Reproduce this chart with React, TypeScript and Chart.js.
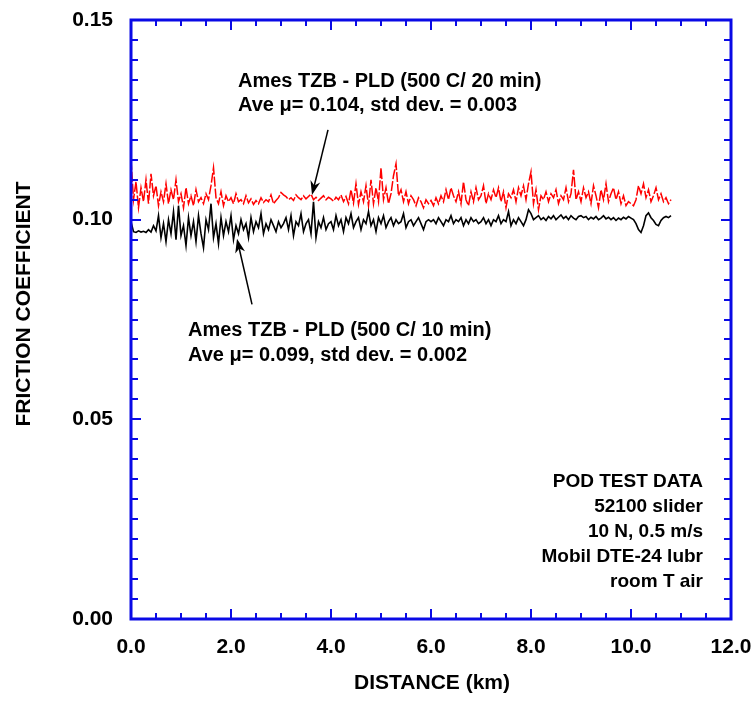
import React, { useEffect, useRef } from "react";
import { Chart, registerables } from "chart.js";

Chart.register(...registerables);

// Distance step between samples (km); samples start at 0 km
const STEP_KM = 0.05;

// Ames TZB - PLD (500 C / 10 min) friction coefficient, black trace
const black10min: number[] = [
  0.0995, 0.0970, 0.0968, 0.0972, 0.0969, 0.0971, 0.0968, 0.0975, 0.0969, 0.0985,
  0.0972, 0.1010, 0.0955, 0.0990, 0.0945, 0.1000, 0.0965, 0.1020, 0.0950, 0.1035,
  0.0960, 0.0985, 0.0935, 0.1005, 0.0960, 0.0995, 0.0945, 0.1010, 0.0965, 0.0930,
  0.1000, 0.0975, 0.1040, 0.0955, 0.0990, 0.0940, 0.1005, 0.0960, 0.0995, 0.0970,
  0.1010, 0.0950, 0.0985, 0.0965, 0.1000, 0.0975, 0.0990, 0.0955, 0.1005, 0.0970,
  0.0995, 0.0980, 0.1015, 0.0965, 0.0990, 0.0975, 0.1000, 0.0985, 0.0970, 0.0995,
  0.0980, 0.0990, 0.1005, 0.0975, 0.1010, 0.0960, 0.0995, 0.0985, 0.1015, 0.0970,
  0.0990, 0.1000, 0.0965, 0.1045, 0.0955, 0.0995, 0.0980, 0.1005, 0.0975, 0.0990,
  0.0995, 0.0975, 0.1010, 0.0985, 0.1000, 0.0970, 0.1005, 0.0990, 0.1015, 0.0980,
  0.0995, 0.1005, 0.0975, 0.1000, 0.0990, 0.1020, 0.0985, 0.1000, 0.0970, 0.1005,
  0.0990, 0.1010, 0.0980, 0.0995, 0.1005, 0.0985, 0.1000, 0.0990, 0.0995, 0.1015,
  0.0980, 0.0995, 0.1000, 0.0985, 0.0995, 0.1005, 0.0990, 0.0975, 0.0995, 0.1000,
  0.0995, 0.1000, 0.0990, 0.1005, 0.0995, 0.0985, 0.1000, 0.0995, 0.1010, 0.0990,
  0.1000, 0.0995, 0.1005, 0.0985, 0.1000, 0.0990, 0.1005, 0.0995, 0.1000, 0.0990,
  0.0995, 0.1005, 0.0990, 0.1000, 0.0985, 0.1000, 0.0995, 0.1010, 0.0990, 0.1000,
  0.0995, 0.1020, 0.0985, 0.1000, 0.0990, 0.1005, 0.0995, 0.0985, 0.1000, 0.1025,
  0.1015, 0.1000, 0.1005, 0.1010, 0.1000, 0.1005, 0.0998, 0.1008, 0.1002, 0.1010,
  0.1000, 0.1006, 0.1012, 0.1003, 0.1008, 0.1000, 0.1010, 0.1004, 0.1000, 0.1008,
  0.1010, 0.1005, 0.1008, 0.1000, 0.1006, 0.1002, 0.1008, 0.1000, 0.1004, 0.1010,
  0.1002, 0.1006, 0.1000, 0.1005, 0.0998, 0.1004, 0.1000, 0.1006, 0.1002, 0.1008,
  0.1004, 0.1000, 0.0990, 0.0975, 0.0968, 0.0985, 0.1010, 0.1017, 0.1005, 0.0998,
  0.0988, 0.0985, 0.0998, 0.1005, 0.1008, 0.1005, 0.1010,
];

// Ames TZB - PLD (500 C / 20 min) friction coefficient, red trace
const red20min: number[] = [
  0.1150, 0.1050, 0.1095, 0.1030, 0.1080, 0.1045, 0.1100, 0.1040, 0.1115, 0.1060,
  0.1085, 0.1035, 0.1070, 0.1045, 0.1090, 0.1040, 0.1075, 0.1050, 0.1100, 0.1045,
  0.1065, 0.1030, 0.1080, 0.1040, 0.1060, 0.1035, 0.1075, 0.1045, 0.1055, 0.1040,
  0.1065, 0.1050, 0.1085, 0.1130, 0.1055, 0.1040, 0.1070, 0.1035, 0.1060, 0.1045,
  0.1055, 0.1040, 0.1065, 0.1045, 0.1050, 0.1040, 0.1060, 0.1042, 0.1052, 0.1038,
  0.1048, 0.1040, 0.1055, 0.1043, 0.1050, 0.1045, 0.1062, 0.1040, 0.1048, 0.1055,
  0.1068, 0.1062, 0.1058, 0.1050, 0.1055, 0.1048, 0.1062, 0.1055, 0.1050, 0.1060,
  0.1052, 0.1058, 0.1064, 0.1050, 0.1056, 0.1048, 0.1054, 0.1060, 0.1050, 0.1056,
  0.1052, 0.1046, 0.1056, 0.1050, 0.1062, 0.1045, 0.1058, 0.1040, 0.1075, 0.1042,
  0.1090, 0.1038, 0.1070, 0.1045, 0.1085, 0.1035, 0.1100, 0.1040, 0.1080, 0.1045,
  0.1130, 0.1050, 0.1080, 0.1040, 0.1065, 0.1110, 0.1140, 0.1060, 0.1075, 0.1045,
  0.1070, 0.1040, 0.1060, 0.1050, 0.1035, 0.1055, 0.1045, 0.1030, 0.1050, 0.1040,
  0.1048, 0.1035, 0.1055, 0.1040, 0.1060, 0.1045, 0.1075, 0.1050, 0.1080, 0.1060,
  0.1045, 0.1070, 0.1040, 0.1095, 0.1050, 0.1035, 0.1070, 0.1045, 0.1080, 0.1050,
  0.1060, 0.1085, 0.1040, 0.1065, 0.1050, 0.1075, 0.1055, 0.1080, 0.1045, 0.1070,
  0.1030, 0.1065, 0.1055, 0.1075, 0.1045, 0.1080, 0.1060, 0.1085, 0.1050, 0.1090,
  0.1120, 0.1040, 0.1075, 0.1025, 0.1060, 0.1050, 0.1070, 0.1045, 0.1065, 0.1055,
  0.1075, 0.1040, 0.1060, 0.1050, 0.1080, 0.1045, 0.1065, 0.1125, 0.1050, 0.1070,
  0.1045, 0.1080, 0.1055, 0.1070, 0.1040, 0.1085, 0.1060, 0.1030, 0.1075, 0.1050,
  0.1090, 0.1045, 0.1065, 0.1080, 0.1050, 0.1070, 0.1040, 0.1060, 0.1035, 0.1045,
  0.1040, 0.1035, 0.1050, 0.1085, 0.1065, 0.1090, 0.1055, 0.1075, 0.1045, 0.1060,
  0.1080, 0.1050, 0.1065, 0.1045, 0.1055, 0.1040, 0.1050,
];

// Axis tick labels
const xTickValues = [0, 2, 4, 6, 8, 10, 12];
const yTickValues = [0, 0.05, 0.1, 0.15];

const annotationTop = ["Ames TZB - PLD (500 C/ 20 min)", "Ave \u03bc= 0.104, std dev. = 0.003"];
const annotationBottom = ["Ames TZB - PLD (500 C/ 10 min)", "Ave \u03bc= 0.099, std dev. = 0.002"];
const infoBox = ["POD TEST DATA", "52100 slider", "10 N, 0.5 m/s", "Mobil DTE-24 lubr", "room T air"];

const FONT = "'Liberation Sans', Arial, Helvetica, sans-serif";
const AXIS_BLUE = "#0a0ae6";

function toPoints(values: number[]) {
  return values.map((v, i) => ({ x: +(i * STEP_KM).toFixed(2), y: v }));
}

const framePlugin = {
  id: "frameAndNotes",
  afterDatasetsDraw(chart: any) {
    const { ctx, chartArea } = chart;
    const xs = chart.scales.x;
    const ys = chart.scales.y;
    const { left, right, top, bottom } = chartArea;
    ctx.save();
    // inward ticks
    ctx.strokeStyle = AXIS_BLUE;
    ctx.lineWidth = 2;
    ctx.beginPath();
    for (let k = 0; k <= 30; k++) {
      const v = k * 0.005;
      const py = Math.round(ys.getPixelForValue(v));
      const len = k % 10 === 0 ? 10 : 7;
      ctx.moveTo(left, py);
      ctx.lineTo(left + len, py);
      ctx.moveTo(right, py);
      ctx.lineTo(right - len, py);
    }
    for (let k = 0; k <= 24; k++) {
      const v = k * 0.5;
      const px = Math.round(xs.getPixelForValue(v));
      const len = k % 4 === 0 ? 10 : 6;
      ctx.moveTo(px, bottom);
      ctx.lineTo(px, bottom - len);
      ctx.moveTo(px, top);
      ctx.lineTo(px, top + len);
    }
    ctx.stroke();
    // frame
    ctx.lineWidth = 3;
    ctx.strokeRect(left, top, right - left, bottom - top);

    // arrows
    const arrow = (x1: number, y1: number, x2: number, y2: number) => {
      const tx = xs.getPixelForValue(x1), ty = ys.getPixelForValue(y1);
      const hx = xs.getPixelForValue(x2), hy = ys.getPixelForValue(y2);
      const ang = Math.atan2(hy - ty, hx - tx);
      const L = 14, W = 5;
      ctx.strokeStyle = "#000";
      ctx.fillStyle = "#000";
      ctx.lineWidth = 1.5;
      ctx.beginPath();
      ctx.moveTo(tx, ty);
      ctx.lineTo(hx - Math.cos(ang) * L * 0.6, hy - Math.sin(ang) * L * 0.6);
      ctx.stroke();
      ctx.beginPath();
      ctx.moveTo(hx, hy);
      ctx.lineTo(hx - Math.cos(ang) * L - Math.sin(ang) * W, hy - Math.sin(ang) * L + Math.cos(ang) * W);
      ctx.lineTo(hx - Math.cos(ang) * L * 0.7, hy - Math.sin(ang) * L * 0.7);
      ctx.lineTo(hx - Math.cos(ang) * L + Math.sin(ang) * W, hy - Math.sin(ang) * L - Math.cos(ang) * W);
      ctx.closePath();
      ctx.fill();
    };
    arrow(3.94, 0.1225, 3.62, 0.1062);
    arrow(2.42, 0.0788, 2.12, 0.0952);

    // texts
    ctx.fillStyle = "#000";
    ctx.textBaseline = "alphabetic";
    ctx.font = `bold 20px ${FONT}`;
    ctx.textAlign = "left";
    annotationTop.forEach((t, i) => ctx.fillText(t, 238, 87 + i * 24));
    annotationBottom.forEach((t, i) => ctx.fillText(t, 188, 336 + i * 25));
    ctx.font = `bold 19px ${FONT}`;
    ctx.textAlign = "right";
    infoBox.forEach((t, i) => ctx.fillText(t, 703, 487 + i * 25));

    // axis titles
    ctx.font = `bold 21px ${FONT}`;
    ctx.textAlign = "center";
    ctx.textBaseline = "middle";
    ctx.fillText("DISTANCE (km)", 432, 683);
    ctx.save();
    ctx.translate(24, 304);
    ctx.rotate(-Math.PI / 2);
    ctx.fillText("FRICTION COEFFICIENT", 0, 0);
    ctx.restore();
    ctx.restore();
  },
};

export default function App() {
  const ref = useRef<HTMLCanvasElement | null>(null);
  useEffect(() => {
    if (!ref.current) return;
    const chart = new Chart(ref.current, {
      type: "line",
      data: {
        datasets: [
          {
            label: "500 C / 10 min",
            data: toPoints(black10min),
            borderColor: "#000000",
            borderWidth: 1.6,
            pointRadius: 0,
            tension: 0,
          },
          {
            label: "500 C / 20 min",
            data: toPoints(red20min),
            borderColor: "#ff0000",
            borderWidth: 1.5,
            borderDash: [10, 2],
            pointRadius: 0,
            tension: 0,
          },
        ],
      },
      options: {
        animation: false,
        responsive: false,
        devicePixelRatio: 1,
        layout: { padding: { left: 0, top: 20, right: 25, bottom: 0 } },
        plugins: { legend: { display: false }, tooltip: { enabled: false } },
        scales: {
          x: {
            type: "linear",
            min: 0,
            max: 12,
            afterBuildTicks: (s: any) => {
              s.ticks = xTickValues.map((v) => ({ value: v }));
            },
            afterFit: (s: any) => {
              s.height = 104;
              s.paddingLeft = 0;
              s.paddingRight = 0;
            },
            ticks: {
              callback: (v: any) => Number(v).toFixed(1),
              font: { family: FONT, size: 21, weight: "bold" },
              color: "#000",
              padding: 16,
              maxRotation: 0,
            },
            grid: { display: false, drawTicks: false },
            border: { display: false },
          },
          y: {
            type: "linear",
            min: 0,
            max: 0.15,
            afterBuildTicks: (s: any) => {
              s.ticks = yTickValues.map((v) => ({ value: v }));
            },
            afterFit: (s: any) => {
              s.width = 131;
              s.paddingTop = 0;
              s.paddingBottom = 0;
            },
            ticks: {
              callback: (v: any) => Number(v).toFixed(2),
              font: { family: FONT, size: 21, weight: "bold" },
              color: "#000",
              padding: 18,
            },
            grid: { display: false, drawTicks: false },
            border: { display: false },
          },
        },
      },
      plugins: [framePlugin],
    });
    return () => chart.destroy();
  }, []);
  return (
    <div style={{ position: "fixed", left: 0, top: 0, width: 756, height: 723, background: "#fff" }}>
      <canvas ref={ref} width={756} height={723} style={{ width: 756, height: 723 }} />
    </div>
  );
}
